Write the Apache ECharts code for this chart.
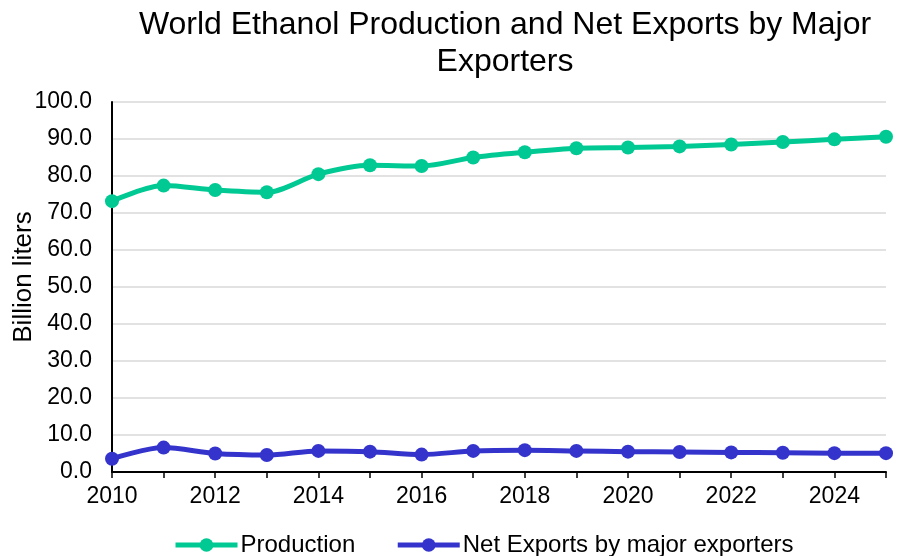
<!DOCTYPE html>
<html>
<head>
<meta charset="utf-8">
<script src="https://cdn.jsdelivr.net/npm/echarts@6/dist/echarts.min.js"></script>
<style>
  html, body { margin: 0; padding: 0; background: #fff; }
  #chart { width: 905px; height: 556px; }
</style>
</head>
<body>
<div id="chart"></div>
<script>
// Years on the horizontal axis
const years = ['2010','2011','2012','2013','2014','2015','2016','2017','2018','2019','2020','2021','2022','2023','2024','2025'];
// World ethanol production, billion liters
const production = [73.2, 77.4, 76.2, 75.6, 80.5, 82.9, 82.7, 85.0, 86.4, 87.5, 87.7, 88.0, 88.5, 89.2, 89.9, 90.6];
// Net exports by major exporters, billion liters
const netExports = [3.6, 6.6, 5.0, 4.6, 5.7, 5.5, 4.7, 5.7, 5.9, 5.7, 5.5, 5.4, 5.3, 5.2, 5.1, 5.1];

const font = 'Liberation Sans, Arial, sans-serif';
const green = '#00C993';
const blue = '#3434CC';
const chart = echarts.init(document.getElementById('chart'));

chart.setOption({
  backgroundColor: '#ffffff',
  animation: false,
  title: {
    text: 'World Ethanol Production and Net Exports by Major\nExporters',
    left: 500,
    textAlign: 'center',
    top: 2,
    textStyle: { fontFamily: font, fontSize: 32, fontWeight: 'normal', color: '#000', lineHeight: 37 }
  },
  legend: {
    top: 528,
    left: 168,
    itemWidth: 62,
    itemHeight: 17,
    itemGap: 40,
    lineStyle: { width: 5 },
    textStyle: { fontFamily: font, fontSize: 24, color: '#000', padding: [0, 0, 0, -2] },
    data: ['Production', 'Net Exports by major exporters']
  },
  grid: { left: 112, right: 19, top: 102, bottom: 84, containLabel: false, outerBoundsMode: 'none' },
  xAxis: {
    type: 'category',
    data: years,
    boundaryGap: false,
    axisLine: { lineStyle: { color: '#000', width: 2 } },
    axisTick: { show: true, interval: 0, length: 6, lineStyle: { color: '#000', width: 1.5 } },
    axisLabel: { interval: 1, fontFamily: font, fontSize: 23, color: '#000', margin: 13 },
    splitLine: { show: false }
  },
  yAxis: {
    type: 'value',
    min: 0,
    max: 100,
    interval: 10,
    name: 'Billion liters',
    nameLocation: 'middle',
    nameGap: 75,
    nameMoveOverlap: false,
    nameTextStyle: { fontFamily: font, fontSize: 26, color: '#000', padding: [0, 0, 0, 20] },
    axisLine: { show: true, lineStyle: { color: '#000', width: 2 } },
    axisTick: { show: false },
    axisLabel: { fontFamily: font, fontSize: 23, color: '#000', margin: 20, formatter: v => v.toFixed(1) },
    splitLine: { lineStyle: { color: '#d9d9d9', width: 1.5 } }
  },
  series: [
    {
      name: 'Production',
      type: 'line',
      data: production,
      smooth: 0.3,
      symbol: 'circle',
      symbolSize: 14,
      lineStyle: { color: green, width: 5 },
      itemStyle: { color: green }
    },
    {
      name: 'Net Exports by major exporters',
      type: 'line',
      data: netExports,
      smooth: 0.3,
      symbol: 'circle',
      symbolSize: 14,
      lineStyle: { color: blue, width: 5 },
      itemStyle: { color: blue }
    }
  ]
});
</script>
</body>
</html>
